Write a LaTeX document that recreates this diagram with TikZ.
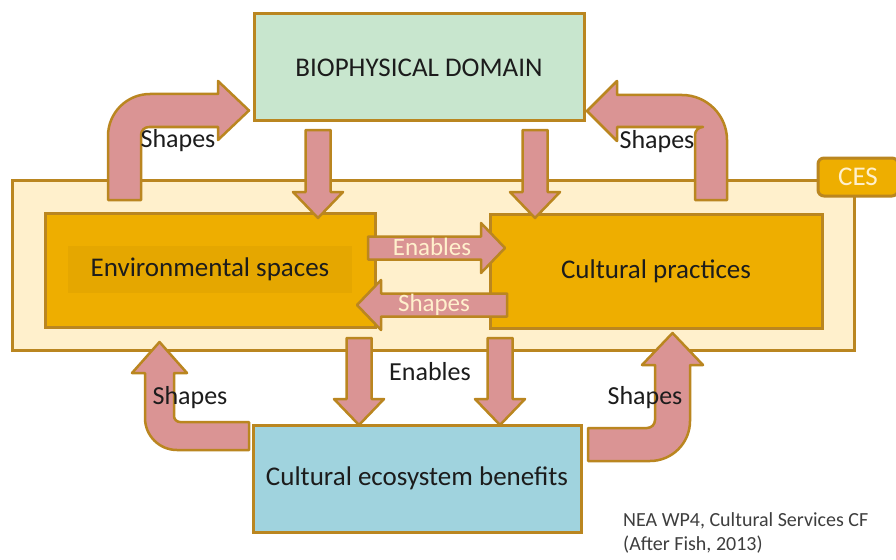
\documentclass[tikz,border=0pt]{standalone}
\usepackage{fontspec}
\setmainfont{Carlito}

\definecolor{gold}{RGB}{186,134,32}
\definecolor{rose}{RGB}{218,148,148}
\definecolor{mint}{RGB}{200,230,206}
\definecolor{amber}{RGB}{238,174,0}
\definecolor{amberdark}{RGB}{229,167,0}
\definecolor{cream}{RGB}{255,240,204}
\definecolor{sky}{RGB}{160,211,222}
\definecolor{ink}{RGB}{28,28,28}

\tikzset{
  box/.style={draw=gold, line width=3pt, inner sep=0pt, text=ink, font=\fontsize{27}{30}\selectfont},
  fat/.style={draw=gold, line width=2.5pt, fill=rose, line join=round},
  lbl/.style={text=ink, font=\fontsize{26}{29}\selectfont},
  inlbl/.style={text=cream, font=\fontsize{25}{28}\selectfont},
  pics/fatdown/.style={code={
    \draw[fat] (-12.5,0) -- (12.5,0) -- (12.5,#1-26) -- (25,#1-26) -- (0,#1) -- (-25,#1-26) -- (-12.5,#1-26) -- cycle;}},
  pics/fatright/.style={code={
    \draw[fat] (0,-11.5) -- (#1-24,-11.5) -- (#1-24,-25) -- (#1,0) -- (#1-24,25) -- (#1-24,11.5) -- (0,11.5) -- cycle;}}
}

\begin{document}
\begin{tikzpicture}[x=1pt, y=-1pt]
    \useasboundingbox (0,0) rectangle (896,559);
    \fill[white] (0,0) rectangle (896,559);

    \node[box, fill=cream, minimum width=842, minimum height=170] (ces) at (433,265) {};
    \node[box, fill=amber, rounded corners=6, minimum width=80, minimum height=38, text=cream, font=\fontsize{27}{30}\selectfont] (tab) at (858,177) {CES};

    \node[box, fill=mint, minimum width=330, minimum height=107] (bio) at (419,67.5) {BIOPHYSICAL DOMAIN};
    \node[box, fill=amber, minimum width=330, minimum height=114] (env) at (210,270) {};
    \node[fill=amberdark, minimum width=284, minimum height=47, inner sep=0pt, text=ink, font=\fontsize{27}{30}\selectfont] (envtxt) at (210,269) {Environmental spaces};
    \node[box, fill=amber, minimum width=332, minimum height=114] (prac) at (656,271) {Cultural practices};
    \node[box, fill=sky, minimum width=328, minimum height=107] (ben) at (417,478.5) {Cultural ecosystem benefits};

    \pic at (318,130) {fatdown=88};
    \pic at (535,130) {fatdown=88};
    \pic at (359,338) {fatdown=87};
    \pic at (500,338) {fatdown=87};

    \pic at (368,248) {fatright=137};
    \pic[xscale=-1] at (507,305) {fatright=150};
    \node[inlbl] (en1) at (432,247) {Enables};
    \node[inlbl] (sh1) at (434,305) {Shapes};
    \node[lbl] (en2) at (430,372) {Enables};

    \draw[fat] (108,200) -- (108,136) .. controls (108,112.8) and (126.8,94) .. (150,94) -- (218,94) -- (218,81)
      -- (249,110.5) -- (218,140) -- (218,127) -- (149,127) .. controls (144.6,127) and (141,130.6) .. (141,135) -- (141,200) -- cycle;
    \draw[fat] (727,200) -- (727,140) .. controls (727,115.2) and (706.8,95) .. (682,95) -- (617,95) -- (617,81)
      -- (587,111) -- (617,141) -- (617,127) -- (703,127) .. controls (698.6,127) and (695,130.6) .. (695,135) -- (695,200) -- cycle;
    \draw[fat] (249,450) -- (177,450) .. controls (159.3,450) and (145,435.7) .. (145,418) -- (145,373) -- (132,373)
      -- (159.5,342) -- (187,373) -- (174,373) -- (174,416) .. controls (174,419.3) and (176.7,422) .. (180,422) -- (249,422) -- cycle;
    \draw[fat] (588,428) -- (647,428) .. controls (651.4,428) and (655,424.4) .. (655,420) -- (655,365) -- (642,365)
      -- (672.5,333) -- (703,365) -- (690,365) -- (690,421) .. controls (690,443.1) and (672.1,461) .. (650,461) -- (588,461) -- cycle;

    \node[lbl] (s1) at (178,141) {Shapes};
    \node[lbl] (s2) at (657,142) {Shapes};
    \node[lbl] (s3) at (190,398) {Shapes};
    \node[lbl] (s4) at (645,398) {Shapes};

    \node[anchor=north west, align=left, text=ink!85, font=\fontsize{20}{24}\selectfont, inner sep=0pt] (cite) at (623,512)
      {NEA WP4, Cultural Services CF\\(After Fish, 2013)};
\end{tikzpicture}
\end{document}
